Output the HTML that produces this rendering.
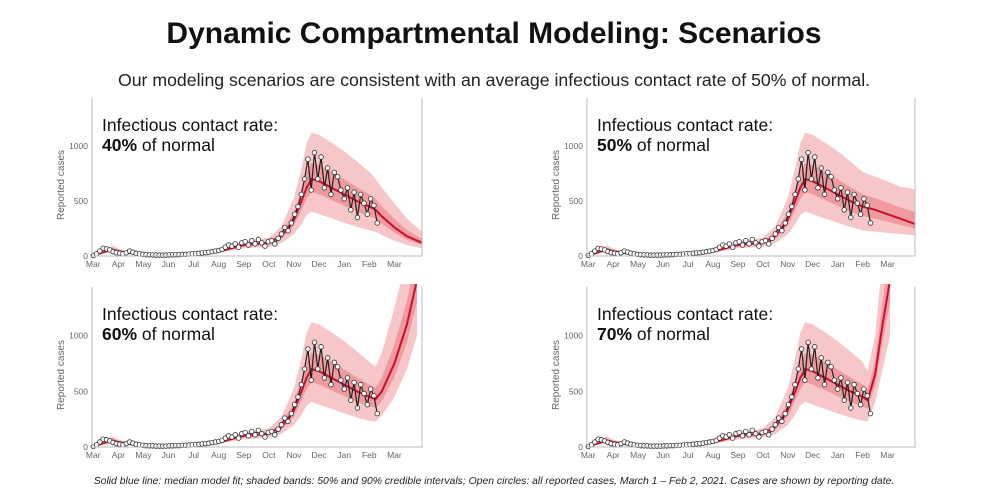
<!DOCTYPE html>
<html><head><meta charset="utf-8"><style>
body{margin:0;background:#fff;width:988px;height:493px;overflow:hidden;font-family:"Liberation Sans",sans-serif}
</style></head><body>
<svg id="s" width="988" height="493" xmlns="http://www.w3.org/2000/svg">
<text x="494" y="43" text-anchor="middle" font-size="30" font-weight="bold" fill="#111">Dynamic Compartmental Modeling: Scenarios</text>
<text x="494" y="86" text-anchor="middle" font-size="17.7" fill="#222">Our modeling scenarios are consistent with an average infectious contact rate of 50% of normal.</text>
<text x="494" y="484" text-anchor="middle" font-size="10.4" font-style="italic" fill="#222">Solid blue line: median model fit; shaded bands: 50% and 90% credible intervals; Open circles: all reported cases, March 1 – Feb 2, 2021.  Cases are shown by reporting date.</text>
</svg>
<script>
const months=["Mar","Apr","May","Jun","Jul","Aug","Sep","Oct","Nov","Dec","Jan","Feb","Mar"];
const yTicks=[0,500,1000];
const sharedT=[0,0.5,0.75,1,1.5,1.9,2.2,2.5,3,3.5,4,4.5,5,5.5,6,6.5,7,7.5,8,8.3,8.5,8.7,9,9.5,10,10.5,11];
const sharedMed=[5,40,60,45,25,25,18,15,10,10,15,25,40,70,100,110,120,180,330,500,620,700,680,620,560,500,450];
const hiF=[1.6,1.6,1.6,1.5,1.5,1.5,1.5,1.5,1.5,1.5,1.5,1.5,1.45,1.4,1.35,1.35,1.4,1.5,1.6,1.6,1.65,1.6,1.62,1.66,1.7,1.72,1.7];
const loF=[0.7,0.7,0.75,0.75,0.75,0.75,0.75,0.75,0.75,0.75,0.75,0.75,0.72,0.7,0.7,0.7,0.7,0.65,0.6,0.58,0.6,0.58,0.56,0.55,0.54,0.53,0.52];
const scenLabels=["40%","50%","60%","70%"];
const contT=[[11.25,11.5,12,12.5,13,13.1],[11.5,12,12.5,13,13.1],[11.25,11.5,12,12.5,12.9],[11.2,11.5,11.8,12.1]];
const contMed=[[420,360,260,180,130,120],[420,380,340,300,290],[430,500,750,1100,1500],[420,650,1100,1500]];
const contHi=[[700,620,480,340,240,230],[720,680,630,610,600],[720,850,1250,1700,2200],[680,1000,1700,2200]];
const contLo=[[220,190,140,100,75,70],[220,210,200,190,185],[230,280,450,700,1000],[230,400,700,1000]];
const obs=[5,20,45,70,65,55,40,30,25,20,30,45,35,25,20,15,12,10,10,8,8,8,8,10,10,12,12,15,15,18,20,22,25,28,30,35,40,45,50,60,80,100,90,110,80,120,130,100,140,110,150,120,90,130,140,110,160,200,260,230,300,380,450,560,700,880,600,940,700,900,620,800,560,760,720,600,520,620,420,580,350,560,480,380,520,460,300];
const panels=[[92,98,422,256],[587,98,915,256],[92,287,422,447],[587,287,915,447]];
const NS="http://www.w3.org/2000/svg",svg=document.getElementById('s');
function mk(tag,a,p){const e=document.createElementNS(NS,tag);for(const k in a)e.setAttribute(k,a[k]);(p||svg).appendChild(e);return e;}
panels.forEach((pb,si)=>{
 const [x0,y0,x1,y1]=pb;
 const g=mk('g',{});
 
 
 const cid='c'+si;const cp=mk('clipPath',{id:cid},g);mk('rect',{x:x0,y:y0-3,width:x1-x0,height:y1-y0+3},cp);
 const X=t=>x0+(t+0.05)/13.15*(x1-x0);
 const Y=v=>y1-v*0.11*(y1-y0)/158;
 const T=sharedT.concat(contT[si]);
 const M=sharedMed.concat(contMed[si]);
 const H=sharedMed.map((v,i)=>v*hiF[i]).concat(contHi[si]);
 const L=sharedMed.map((v,i)=>v*loF[i]).concat(contLo[si]);
 const H5=M.map((v,i)=>v+(H[i]-v)*0.35),L5=M.map((v,i)=>v-(v-L[i])*0.4);
 function band(hi,lo,col,name){let d='M'+T.map((t,i)=>X(t)+','+Y(hi[i])).join('L');for(let i=T.length-1;i>=0;i--)d+='L'+X(T[i])+','+Y(lo[i]);const p=mk('path',{d:d+'Z',fill:col,'clip-path':'url(#'+cid+')'},g);}
 band(H,L,'#f7c6c8','band-90');
 band(H5,L5,'#ee9a9f','band-50');
 const ml=mk('path',{d:'M'+T.map((t,i)=>X(t)+','+Y(M[i])).join('L'),fill:'none',stroke:'#c8102e','stroke-width':2,'clip-path':'url(#'+cid+')'},g);
 
 const ol=mk('path',{d:'M'+obs.map((v,i)=>X(i*4/30.4)+','+Y(v)).join('L'),fill:'none',stroke:'#222','stroke-width':1.2},g);
 
 obs.forEach((v,i)=>{const c=mk('circle',{cx:X(i*4/30.4),cy:Y(v),r:2.3,fill:'#fff',stroke:'#333','stroke-width':0.8},g);
  });
 const bx=mk('path',{d:`M${x0},${y0}V${y1}H${x1}V${y0}`,fill:'none',stroke:'#bbb','stroke-width':1},g);
 
 yTicks.forEach(v=>{const t=mk('text',{x:x0-4,y:Y(v)+3,'text-anchor':'end','font-size':8.5,fill:'#666'},g);t.textContent=v;
  });
 months.forEach((m,i)=>{const t=mk('text',{x:X(i),y:y1+11,'text-anchor':'middle','font-size':8.5,fill:'#666'},g);t.textContent=m;
  });
 const yt=mk('text',{x:0,y:0,transform:`translate(${x0-28},${(y0+y1)/2+8}) rotate(-90)`,'text-anchor':'middle','font-size':10,fill:'#666'},g);yt.textContent='Reported cases';
 
 const l1=mk('text',{x:x0+10,y:y0+33,'font-size':17.5,fill:'#111'},g);l1.textContent='Infectious contact rate:';
 
 const l2=mk('text',{x:x0+10,y:y0+53,'font-size':17.5,fill:'#111'},g);
 const b=mk('tspan',{'font-weight':'bold'},l2);b.textContent=scenLabels[si];
 const r=mk('tspan',{},l2);r.textContent=' of normal';
 
});
</script>
</body></html>
